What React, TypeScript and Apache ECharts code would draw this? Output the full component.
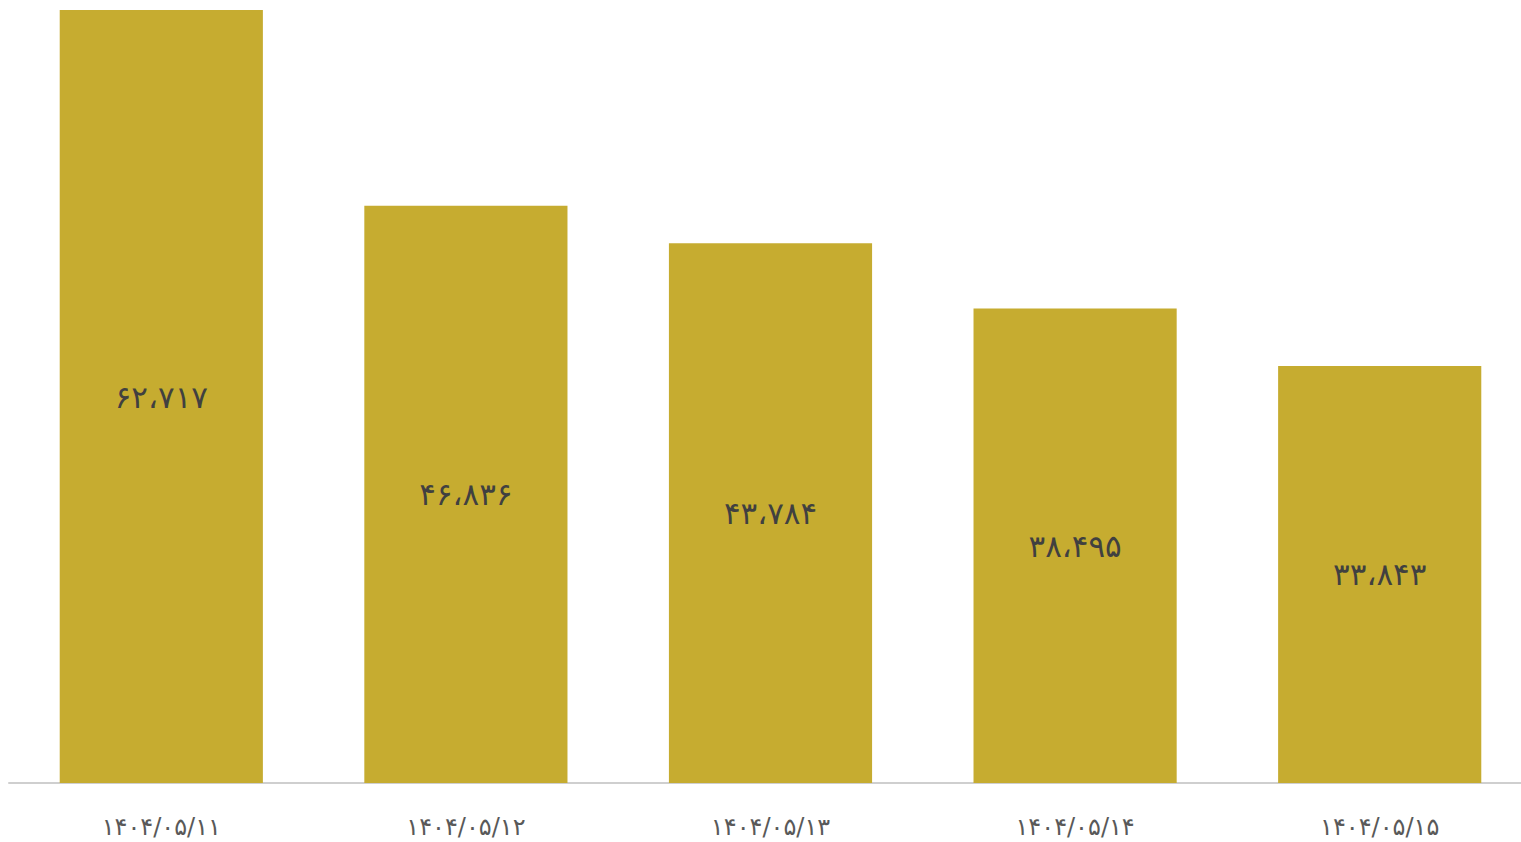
import React, { useEffect, useRef } from "react";
import * as echarts from "echarts";

const categories = ["۱۴۰۴/۰۵/۱۱", "۱۴۰۴/۰۵/۱۲", "۱۴۰۴/۰۵/۱۳", "۱۴۰۴/۰۵/۱۴", "۱۴۰۴/۰۵/۱۵"];
const values = [62717, 46836, 43784, 38495, 33843];

const faDigits = "۰۱۲۳۴۵۶۷۸۹";
function toFa(n: number): string {
  const s = String(Math.round(n)).replace(/\B(?=(\d{3})+(?!\d))/g, "،");
  return s.replace(/\d/g, (d) => faDigits[Number(d)]);
}

export default function App() {
  const ref = useRef<HTMLDivElement>(null);
  useEffect(() => {
    if (!ref.current) return;
    const chart = echarts.init(ref.current, null, { renderer: "svg" });
    chart.setOption({
      animation: false,
      grid: { left: 9, right: 0, top: 10, bottom: 59, containLabel: false },
      xAxis: {
        type: "category",
        data: categories,
        axisLine: { lineStyle: { color: "#cfcfcf", width: 2 } },
        axisTick: { show: false },
        axisLabel: {
          color: "#595959",
          fontSize: 24,
          lineHeight: 20,
          fontFamily: "DejaVu Sans",
          margin: 34,
        },
      },
      yAxis: {
        type: "value",
        min: 0,
        max: 62717,
        show: false,
        splitLine: { show: false },
      },
      series: [
        {
          type: "bar",
          data: values,
          barWidth: "66.7%",
          itemStyle: { color: "#C6AC30" },
          label: {
            show: true,
            position: "inside",
            color: "#404040",
            fontSize: 31,
            fontWeight: "normal",
            fontFamily: "DejaVu Sans",
            formatter: (p: any) => toFa(p.value),
          },
        },
      ],
    });
    return () => chart.dispose();
  }, []);
  return (
    <div style={{ width: 1521, height: 842, position: "absolute", left: 0, top: 0, overflow: "hidden" }}>
      <div ref={ref} style={{ width: 1532, height: 842, position: "absolute", left: 0, top: 0 }} />
    </div>
  );
}
